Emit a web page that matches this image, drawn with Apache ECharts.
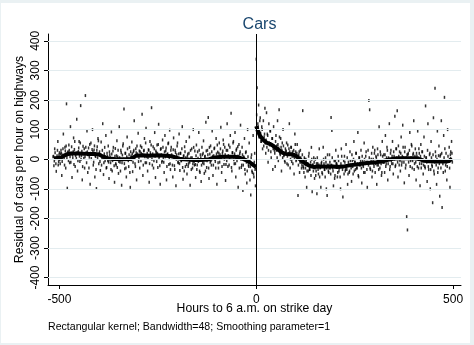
<!DOCTYPE html>
<html>
<head>
<meta charset="utf-8">
<script src="https://cdn.jsdelivr.net/npm/echarts@6/dist/echarts.min.js"></script>
<style>
  html, body { margin: 0; padding: 0; background: #eaf1f3; }
  #panel { position: absolute; left: 1px; top: 3px; width: 469px; height: 340px; background: #ffffff; }
  #chart { position: absolute; left: 0; top: 0; width: 474px; height: 345px; }
</style>
</head>
<body>
<div id="panel"></div>
<div id="chart"></div>
<script>
// Hourly residuals around 6 a.m. on strike day (hour 0).
// Even hours, from hour -516 to 498
const evenStart = -516;
const residualsEven = [
  8,-22,35,3,-41,12,60,-8,22,-15,
  30,-55,14,85,2,40,-30,187,-98,25,
  48,-12,110,20,-62,5,72,33,-25,18,
  135,-40,26,60,-8,181,12,-70,44,3,
  -30,215,22,95,-45,38,7,-85,55,16,
  100,-20,31,-60,9,-99,42,70,-15,25,
  -38,58,4,120,-52,18,-5,80,-28,10,
  45,-65,15,-12,92,-40,28,0,-78,36,
  -20,62,8,-48,110,-10,30,-88,14,52,
  170,-32,20,-60,75,3,-25,40,-95,11,
  58,-42,25,130,-15,35,-70,18,88,6,
  -30,45,20,152,-55,28,70,-12,105,8,
  -40,32,-78,60,15,174,-20,42,-5,90,
  -62,22,48,-28,118,10,-85,36,-10,65,
  3,-45,80,28,-70,16,52,-18,98,-35,
  40,8,-60,72,-22,30,-90,15,55,-12,
  85,-38,20,-5,110,-68,12,42,-25,60,
  -50,18,-15,75,-88,5,35,-30,100,-8,
  28,-62,48,-20,3,90,-40,15,-75,40,
  -12,62,-48,10,125,-28,30,141,-65,18,
  45,-20,95,-55,12,38,-8,70,-85,24,
  -30,55,15,108,-45,20,65,-18,40,-72,
  30,120,-25,48,5,80,155,-40,22,60,
  -15,90,-60,35,10,-95,50,18,115,-28,
  40,-106,8,70,-50,25,-80,100,-20,55,
  -70,-121,15,-45,80,-60,20,-90,338,241,
  120,183,95,140,60,110,35,130,75,172,
  20,157,85,-10,120,48,95,5,70,-35,
  110,30,-25,80,45,130,-5,167,20,70,
  -40,55,100,12,-5,35,28,-15,48,20,
  120,-30,40,-8,25,10,-50,85,25,-2,
  50,-123,15,-45,30,-10,-20,164,-30,5,
  -60,0,-95,-15,-40,20,-35,-10,40,-110,
  -20,5,-65,0,-40,-117,-15,-50,35,-30,
  -95,-10,-50,40,-15,-35,5,-100,-123,-20,
  -45,15,-30,141,97,-30,-90,-5,-55,30,
  -15,-60,10,-40,-25,-100,35,-25,-128,-5,
  10,-40,50,-35,-85,-10,-45,25,-20,-75,
  -5,-50,60,-10,-35,20,-30,90,-60,5,
  -20,30,-80,-5,-25,55,-45,10,-10,-95,
  30,198,167,-35,0,-60,40,-15,20,-45,
  10,-85,35,-20,110,-30,15,-55,60,-10,
  15,-45,80,-15,40,-70,5,120,-25,30,
  -15,60,-50,10,145,-20,35,164,-60,10,
  25,-40,75,-10,115,5,-80,40,-20,-194,
  -239,20,-55,90,-5,50,-30,15,130,-15,
  35,-70,10,95,-30,20,-90,50,-15,25,
  -50,75,-25,180,5,-75,120,-35,15,-100,
  60,-20,-147,140,-50,240,10,-85,95,-30,
  45,-125,15,130,-163,-15,80,209,-40,20,
  -70,100,-5,40,-95,25,60,-10
];
// Odd hours, from hour -515 to 497
const oddStart = -515;
const residualsOdd = [
  10,-6,22,-15,5,30,-20,14,-2,18,
  20,-8,35,12,-20,28,45,6,22,-5,
  30,8,-10,42,15,25,-18,60,12,3,
  22,-5,38,10,55,0,27,-25,18,35,
  8,40,-12,25,15,-30,50,20,2,33,
  25,-10,45,12,-35,30,5,62,18,-8,
  15,-20,30,2,-12,40,8,-30,20,-5,
  -10,25,5,-35,18,-5,40,-22,10,-15,
  12,-28,30,-8,5,-40,22,-12,45,0,
  -15,20,-30,8,35,-5,15,-45,25,-2,
  18,-10,30,5,-25,22,45,12,-8,28,
  25,-5,40,15,-20,30,8,55,-12,20,
  5,30,-15,22,48,0,18,-30,35,10,
  28,-8,20,50,5,-22,33,15,-5,40,
  -10,25,8,38,-25,18,55,2,-15,30,
  15,-20,32,5,-35,22,0,45,-10,18,
  -15,20,-5,35,-28,10,-40,25,5,-18,
  10,-25,20,-10,30,-35,5,-15,40,-20,
  -18,12,-35,25,-8,30,-45,5,-20,15,
  20,-15,8,-40,28,-5,15,-30,40,-10,
  -5,25,10,-20,35,0,-30,18,48,-12,
  20,-10,35,5,-25,28,50,0,15,-18,
  -5,30,12,-20,40,8,-28,22,55,-2,
  18,-15,30,-5,42,10,-30,25,0,-20,
  15,-20,5,-35,22,-10,-40,8,-25,-5,
  -25,5,-40,-15,-50,-10,-35,-30,150,90,
  110,75,130,88,60,100,70,45,85,55,
  65,40,80,30,55,95,25,50,70,35,
  45,20,60,30,5,50,38,75,15,40,
  30,5,45,15,-10,25,55,10,-20,35,
  25,0,40,10,-15,30,5,50,-5,20,
  10,-20,25,-10,5,-30,15,-25,-45,0,
  -30,-5,-40,-15,10,-35,-25,-55,0,-20,
  -40,-10,-30,-55,-15,5,-35,-20,-60,-28,
  -15,-45,-25,0,-35,-60,-10,-30,15,-40,
  -30,-10,-50,-20,5,-40,-25,-65,-5,-15,
  -20,-45,-5,-30,-60,-15,10,-35,-25,-50,
  -10,-35,-25,5,-50,-20,-40,-5,-30,15,
  -25,0,-40,-10,20,-30,-15,-55,5,-20,
  -5,-30,10,-20,-45,0,-15,25,-35,-10,
  -20,5,-30,-10,20,-40,0,-25,30,-15,
  5,-20,15,-35,-5,25,-15,-45,10,-10,
  -10,15,-25,5,30,-15,0,-35,20,-5,
  10,-15,25,0,-25,35,5,-10,45,-20,
  -5,20,-20,10,40,-10,25,-30,5,15,
  15,-10,30,-25,5,45,-5,20,-35,10,
  -10,20,-25,5,35,-15,10,-30,25,-5,
  -20,10,-30,5,-10,30,-25,-5,20,-35,
  5,-25,15,-40,-10,25,-20,0,-45,12,
  -15,10,-30,20,-5,-45,5,35,-20,-10,
  -25,10,-5,-30,15,0,20
];

// Running-mean smooth, fitted separately before and after the strike start
const smoothHoursBefore = [-514,-505,-495,-488,-480,-470,-450,-430,-410,-400,-392,-384,-375,-360,-340,-320,-312,-305,-290,-270,-250,-230,-215,-205,-195,-185,-175,-160,-145,-130,-120,-110,-100,-85,-70,-55,-45,-35,-25,-15,-8,-1];
const smoothBefore = [3,4,6,12,17,19,19,18,18,16,11,6,2,1,0,1,6,12,13,12,13,12,10,6,2,0,-1,-3,-3,-2,0,4,7,8,8,8,6,2,-4,-12,-19,-26];
const smoothHoursAfter = [0,4,10,18,26,34,42,50,58,66,74,82,90,98,106,115,125,135,145,160,175,190,205,220,240,260,275,290,305,320,335,350,370,390,405,415,425,440,460,480,490,497];
const smoothAfter = [112,95,78,65,56,52,46,38,30,22,18,17,17,14,6,-5,-15,-22,-26,-25,-25,-24,-26,-25,-20,-17,-14,-12,-10,-7,-2,2,3,3,3,0,-5,-7,-8,-8,-6,3];

const xTicks = [-500, 0, 500];
const yTicks = [-400, -300, -200, -100, 0, 100, 200, 300, 400];

const FONT = "'Liberation Sans', Arial, Helvetica, sans-serif";

const points = residualsEven.map((v, i) => [evenStart + 2 * i, v])
  .concat(residualsOdd.map((v, i) => [oddStart + 2 * i, v]));
const lineBefore = smoothHoursBefore.map((h, i) => [h, smoothBefore[i]]);
const lineAfter = smoothHoursAfter.map((h, i) => [h, smoothAfter[i]]);

const chart = echarts.init(document.getElementById('chart'), null, { renderer: 'canvas' });

chart.setOption({
  backgroundColor: 'transparent',
  animation: false,
  title: {
    text: 'Cars',
    left: 254.5,
    top: 12,
    textAlign: 'center',
    textStyle: { fontFamily: FONT, fontSize: 16, fontWeight: 'normal', color: '#1a476f' }
  },
  graphic: [{
    type: 'text',
    left: 48,
    top: 322,
    style: {
      text: 'Rectangular kernel; Bandwidth=48; Smoothing parameter=1',
      fontFamily: FONT, fontSize: 10.6, fill: '#000'
    }
  }],
  grid: { left: 48, right: 13, top: 34, bottom: 60, containLabel: false },
  xAxis: {
    type: 'value',
    min: -529,
    max: 520,
    name: 'Hours to 6 a.m. on strike day',
    nameLocation: 'middle',
    nameGap: 18,
    nameMoveOverlap: false,
    nameTextStyle: { fontFamily: FONT, fontSize: 12.2, color: '#000' },
    axisLine: { show: true, onZero: false, lineStyle: { color: '#000', width: 1 } },
    axisTick: { show: true, customValues: xTicks, length: 4, lineStyle: { color: '#000', width: 1 } },
    axisLabel: { customValues: xTicks, margin: 9, color: '#000', fontFamily: FONT, fontSize: 12 },
    splitLine: { show: false }
  },
  yAxis: {
    type: 'value',
    min: -425,
    max: 423,
    name: 'Residual of cars per hour on highways',
    nameLocation: 'middle',
    nameRotate: 90,
    nameGap: 22,
    nameMoveOverlap: false,
    nameTextStyle: { fontFamily: FONT, fontSize: 12.2, color: '#000' },
    axisLine: { show: true, onZero: false, lineStyle: { color: '#000', width: 1 } },
    axisTick: { show: true, customValues: yTicks, length: 4, lineStyle: { color: '#000', width: 1 } },
    axisLabel: { customValues: yTicks, rotate: 90, margin: 6, color: '#000', fontFamily: FONT, fontSize: 12 },
    splitLine: { show: false }
  },
  series: [
    {
      // horizontal grid lines at the labelled values
      type: 'scatter',
      data: [],
      z: 1,
      silent: true,
      markLine: {
        silent: true,
        symbol: 'none',
        label: { show: false },
        lineStyle: { color: '#e3ecef', width: 1, type: 'solid' },
        data: yTicks.map(v => ({ yAxis: v }))
      }
    },
    {
      type: 'scatter',
      data: points,
      symbol: 'rect',
      symbolSize: [1.5, 3],
      itemStyle: { color: '#000' },
      silent: true,
      z: 3
    },
    {
      type: 'line',
      data: lineBefore,
      showSymbol: false,
      lineStyle: { color: '#000', width: 4 },
      silent: true,
      z: 4
    },
    {
      type: 'line',
      data: lineAfter,
      showSymbol: false,
      lineStyle: { color: '#000', width: 4 },
      silent: true,
      z: 4,
      markLine: {
        silent: true,
        symbol: 'none',
        label: { show: false },
        lineStyle: { color: '#000', width: 1, type: 'solid' },
        data: [{ xAxis: 0 }]
      }
    }
  ]
});
</script>
</body>
</html>
